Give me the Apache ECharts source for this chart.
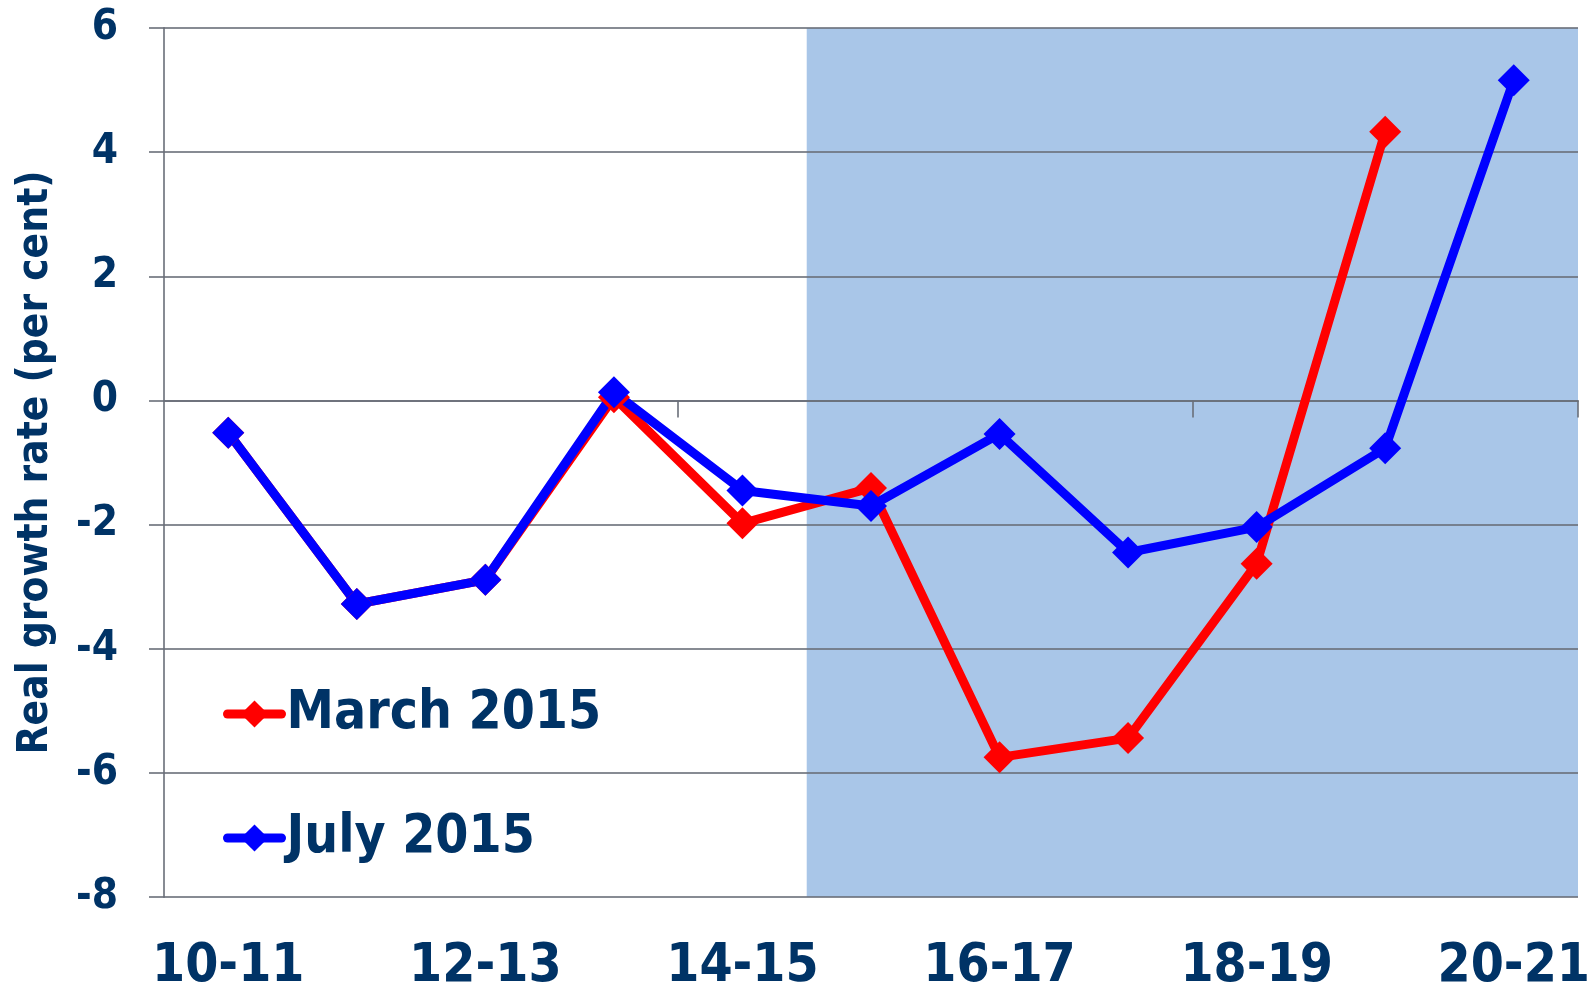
<!DOCTYPE html>
<html lang="en">
  <head>
    <meta charset="UTF-8" />
    <title>Real growth rate</title>
    <style>
      html, body { margin: 0; padding: 0; background: #fff; }
    </style>
  </head>
  <body>
    <div id="main" style="width: 1589px; height: 988px"></div>
    <script src="https://cdn.jsdelivr.net/npm/echarts@6.0.0/dist/echarts.min.js"></script>
    <script>
      const categories = ['10-11', '11-12', '12-13', '13-14', '14-15', '15-16', '16-17', '17-18', '18-19', '19-20', '20-21']
      const march2015 = [-0.52, -3.28, -2.89, 0.05, -1.98, -1.41, -5.75, -5.44, -2.63, 4.33, null]
      const july2015 = [-0.52, -3.28, -2.89, 0.13, -1.45, -1.70, -0.54, -2.45, -2.04, -0.77, 5.16]
      const yTicks = [-8, -6, -4, -2, 0, 2, 4, 6]
      // projection period: from the start of 15-16 to the end of 20-21 (category slots)
      const shadeFrom = 5
      const shadeTo = 11

      const navy = '#003366'
      const font = '"DejaVu Sans Condensed", "DejaVu Sans", sans-serif'
      const gridGrey = 'rgba(105,110,120,0.8)'

      const myChart = echarts.init(document.getElementById('main'), null, { renderer: 'canvas' })

      const option = {
        animation: false,
        grid: { left: 164, right: 11, top: 28, bottom: 91, containLabel: false, outerBoundsMode: 'none' },

        xAxis: [
          // axis drawn across zero, ticks every 4 slots
          {
            type: 'category',
            data: categories,
            boundaryGap: true,
            axisLine: { onZero: true, lineStyle: { color: gridGrey, width: 2 } },
            axisTick: {
              show: true,
              interval: (i) => i === 4 || i === 8,
              length: 17,
              lineStyle: { color: gridGrey, width: 2 }
            },
            axisLabel: { show: false },
            splitLine: { show: false }
          },
          // labels along the bottom
          {
            type: 'category',
            data: categories,
            position: 'bottom',
            boundaryGap: true,
            axisLine: { show: false, onZero: false },
            axisTick: { show: false },
            axisLabel: {
              interval: 1,
              margin: 44,
              color: navy,
              fontFamily: font,
              fontWeight: 'bold',
              fontSize: 53
            }
          },
          // slot scale for the shaded area
          { type: 'value', min: 0, max: categories.length, show: false }
        ],

        yAxis: {
          type: 'value',
          min: yTicks[0],
          max: yTicks[yTicks.length - 1],
          interval: 2,
          name: 'Real growth rate (per cent)',
          nameLocation: 'middle',
          nameGap: 107,
          nameRotate: 90,
          nameTextStyle: { color: navy, fontFamily: font, fontWeight: 'bold', fontSize: 42 },
          axisLine: { show: true, onZero: false, lineStyle: { color: gridGrey, width: 2 } },
          axisTick: { show: true, length: 15, lineStyle: { color: gridGrey, width: 2 } },
          axisLabel: { margin: 46, color: navy, fontFamily: font, fontWeight: 'bold', fontSize: 42 },
          splitLine: { lineStyle: { color: gridGrey, width: 2 } }
        },

        legend: {
          orient: 'vertical',
          left: 223,
          top: 684,
          padding: 0,
          itemGap: 64,
          itemWidth: 54,
          itemHeight: 34,
          data: ['March 2015', 'July 2015'],
          lineStyle: { width: 9, cap: 'round' },
          textStyle: { color: navy, fontFamily: font, fontWeight: 'bold', fontSize: 53, lineHeight: 60 }
        },

        series: [
          {
            name: 'shade',
            type: 'line',
            xAxisIndex: 2,
            data: [],
            z: -1,
            silent: true,
            markArea: {
              silent: true,
              z: -1,
              itemStyle: { color: '#a9c6e8' },
              data: [[{ xAxis: shadeFrom }, { xAxis: shadeTo }]]
            }
          },
          {
            name: 'March 2015',
            type: 'line',
            data: march2015,
            symbol: 'diamond',
            symbolSize: 32,
            lineStyle: { color: '#ff0000', width: 9 },
            itemStyle: { color: '#ff0000' }
          },
          {
            name: 'July 2015',
            type: 'line',
            data: july2015,
            symbol: 'diamond',
            symbolSize: 32,
            lineStyle: { color: '#0000ff', width: 9 },
            itemStyle: { color: '#0000ff' }
          }
        ]
      }

      myChart.setOption(option)
    </script>
  </body>
</html>
